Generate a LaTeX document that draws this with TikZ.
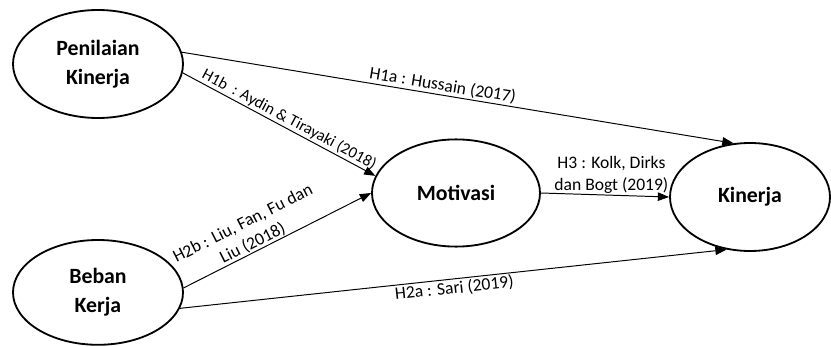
\documentclass[tikz,border=0pt]{standalone}
\usepackage{fontspec}
\setmainfont{Carlito}
\usetikzlibrary{positioning, shapes, arrows.meta}

\begin{document}
\begin{tikzpicture}[
        var/.style={draw, ellipse, line width=1.3pt, align=center, inner sep=0pt,
                    font=\fontsize{15.5}{21}\selectfont\bfseries},
        arr/.style={-{Triangle[length=8pt,width=6pt]}, line width=0.7pt},
        lbl/.style={font=\fontsize{12.5}{15.5}\selectfont, align=center, inner sep=1pt}
    ]
        \useasboundingbox (0,0) rectangle (20.775,8.65);

        % Draw variables
        \node[var, minimum width=4.25cm, minimum height=2.7cm] (pk) at (2.45,7.05) {Penilaian\\Kinerja};
        \node[var, minimum width=4.25cm, minimum height=2.62cm] (bk) at (2.45,1.34) {Beban\\Kerja};
        \node[var, minimum width=4.2cm, minimum height=2.68cm] (mot) at (11.4,3.825) {Motivasi};
        \node[var, minimum width=4.0cm, minimum height=2.7cm] (kin) at (18.75,3.725) {Kinerja};

        % Draw hypotheses from Penilaian Kinerja
        \draw[arr] (pk.8) -- (kin.107)
            node[lbl, pos=0.47, above, sloped] {H1a : Hussain (2017)};
        \draw[arr] (pk.-6) -- (mot.168)
            node[lbl, pos=0.53, above, sloped, font=\fontsize{11.5}{14}\selectfont] {H1b\ \ : Aydin \& Tirayaki (2018)};

        % Draw hypotheses from Beban Kerja
        \draw[arr] (bk.3) -- (mot.180)
            node[lbl, pos=0.39, above, sloped, inner sep=0.5pt] {H2b : Liu, Fan, Fu dan\\Liu (2018)};
        \draw[arr] (bk.-11) -- (kin.-114)
            node[lbl, pos=0.5, below, sloped] {H2a : Sari (2019)};

        % Draw hypothesis from Motivasi
        \draw[arr] (mot.east) -- (kin.west)
            node[lbl, pos=0.55, above] {H3 : Kolk, Dirks\\dan Bogt (2019)};

\end{tikzpicture}
\end{document}
